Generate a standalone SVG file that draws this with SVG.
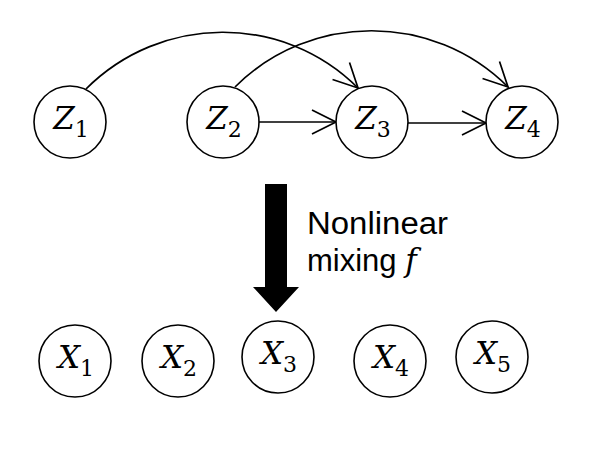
<svg xmlns="http://www.w3.org/2000/svg" width="600" height="450" viewBox="0 0 600 450">
  <defs>
    <style>
      .node { fill: #fff; stroke: #000; stroke-width: 1.6; }
      .edge { fill: none; stroke: #000; stroke-width: 1.7; }
      .lbl { font-family: "DejaVu Serif", "Liberation Serif", serif; font-size: 31px; font-style: italic; fill: #000; }
      .sub { font-style: normal; font-size: 22px; }
      .txt { font-family: "Liberation Sans", "Open Sans", sans-serif; font-size: 31px; fill: #000; }
    </style>
    <marker id="open" markerUnits="userSpaceOnUse" viewBox="-28 -16 32 32" markerWidth="32" markerHeight="32" refX="0" refY="0" orient="auto" overflow="visible">
      <path d="M-24,-12 L0,0 L-24,12" fill="none" stroke="#000" stroke-width="1.7"/>
    </marker>
  </defs>
  <rect width="600" height="450" fill="#fff"/>

  <g id="connectors">
    <path class="edge" d="M86,89 C161,14 283,13 358,88" marker-end="url(#open)"/>
    <path class="edge" d="M235,87 C310,12 433,12 508,87" marker-end="url(#open)"/>
    <line class="edge" x1="259" y1="122" x2="336" y2="122" marker-end="url(#open)"/>
    <line class="edge" x1="408" y1="123" x2="486" y2="123" marker-end="url(#open)"/>
  </g>

  <g id="Z1"><circle class="node" cx="70" cy="122" r="36"/><text class="lbl" x="71" y="129" text-anchor="middle">Z<tspan class="sub" dy="8">1</tspan></text></g>
  <g id="Z2"><circle class="node" cx="223" cy="122" r="36"/><text class="lbl" x="224" y="129" text-anchor="middle">Z<tspan class="sub" dy="8">2</tspan></text></g>
  <g id="Z3"><circle class="node" cx="372" cy="122" r="36"/><text class="lbl" x="373" y="129" text-anchor="middle">Z<tspan class="sub" dy="8">3</tspan></text></g>
  <g id="Z4"><circle class="node" cx="522" cy="122" r="36"/><text class="lbl" x="523" y="129" text-anchor="middle">Z<tspan class="sub" dy="8">4</tspan></text></g>

  <g id="mixing">
    <polygon points="265,184 287,184 287,287 299,287 276,312 253,287 265,287" fill="#000"/>
    <text class="txt" x="307" y="234" textLength="141" lengthAdjust="spacingAndGlyphs">Nonlinear</text>
    <text class="txt" x="307" y="271">mixing <tspan font-family="DejaVu Serif, serif" font-style="italic">f</tspan></text>
  </g>

  <g id="X1"><circle class="node" cx="75" cy="361" r="36"/><text class="lbl" x="76" y="368" text-anchor="middle">X<tspan class="sub" dy="8">1</tspan></text></g>
  <g id="X2"><circle class="node" cx="178" cy="361" r="36"/><text class="lbl" x="179" y="368" text-anchor="middle">X<tspan class="sub" dy="8">2</tspan></text></g>
  <g id="X3"><circle class="node" cx="278" cy="357" r="36"/><text class="lbl" x="279" y="364" text-anchor="middle">X<tspan class="sub" dy="8">3</tspan></text></g>
  <g id="X4"><circle class="node" cx="390" cy="361" r="36"/><text class="lbl" x="391" y="368" text-anchor="middle">X<tspan class="sub" dy="8">4</tspan></text></g>
  <g id="X5"><circle class="node" cx="492" cy="357" r="36"/><text class="lbl" x="493" y="364" text-anchor="middle">X<tspan class="sub" dy="8">5</tspan></text></g>
</svg>
